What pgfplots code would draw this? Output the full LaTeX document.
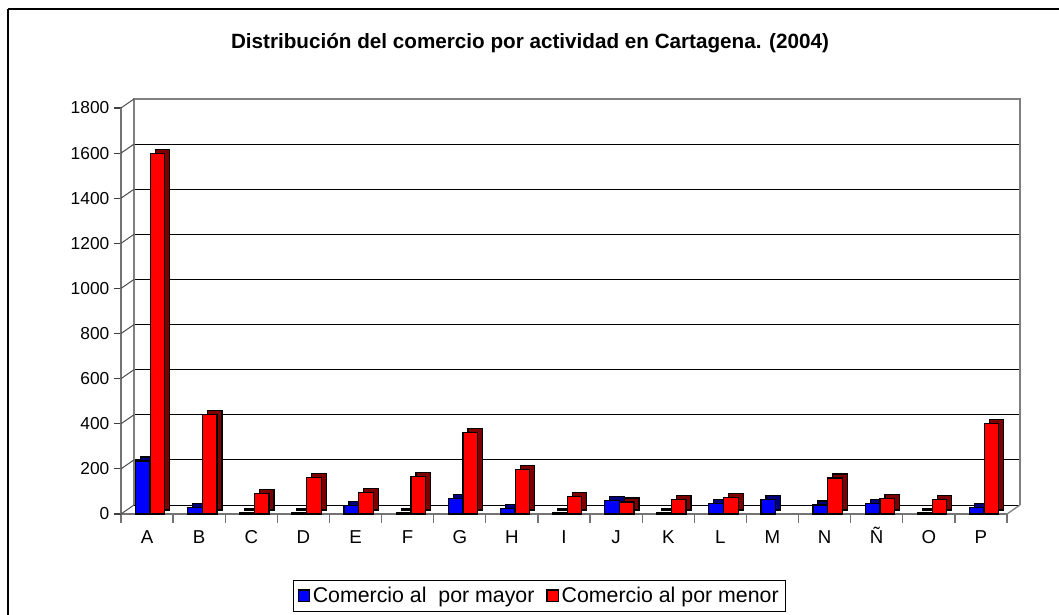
\documentclass[border=0pt]{standalone}
\usepackage{pgfplots}
\pgfplotsset{compat=1.18}
\usepackage{fontspec}
\setmainfont{Liberation Sans}
\definecolor{xblue}{RGB}{0,0,255}
\definecolor{xred}{RGB}{255,0,0}
\definecolor{dblue}{RGB}{0,0,120}
\definecolor{dred}{RGB}{125,0,0}
\begin{document}
\begin{tikzpicture}[x=0.75pt,y=0.75pt]
\useasboundingbox (0,0) rectangle (1059,614);
\draw[black, line width=0.9pt] (8,605) -- (1090,605);
\draw[black, line width=0.9pt] (8,605) -- (8,-30);
\node[font=\fontsize{15.5}{18}\selectfont\bfseries] at (530,571) {Distribución del comercio por actividad en Cartagena. (2004)};
\begin{axis}[
  at={(90.75pt,75pt)}, anchor=south west,
  scale only axis, width=664.5pt, height=304.5pt,
  clip=false,
  xmin=-0.5, xmax=16.5, ymin=0, ymax=1800,
  xtick={0,...,16},
  xticklabels={A,B,C,D,E,F,G,H,I,J,K,L,M,N,Ñ,O,P},
  minor xtick={-0.5,0.5,...,16.5},
  ytick={0,200,...,1800},
  axis x line*=bottom, axis y line*=left,
  axis line style={black!55, line width=1pt, -},
  tick align=outside,
  major tick length=5.25pt, minor tick length=6.75pt,
  major x tick style={draw=none},
  minor x tick style={black!55, line width=1pt},
  ytick style={black!75, line width=0.9pt},
  ymajorgrids,
  major grid style={black, line width=0.75pt, xshift=9.75pt, yshift=6.75pt},
  /pgf/number format/assume math mode=true,
  /pgf/number format/1000 sep={},
  yticklabel style={font=\fontsize{13}{15}\selectfont},
  xticklabel style={font=\fontsize{14}{16}\selectfont, text height=10.5pt, text depth=0pt, yshift=-3pt},
  legend style={at={(0.4723,-0.1626)}, anchor=north, draw=black, line width=0.9pt,
    font=\fontsize{16}{18}\selectfont, legend columns=2,
    /tikz/every even column/.append style={column sep=7pt},
    inner ysep=3pt, inner xsep=3pt},
  legend image code/.code={\draw[#1, draw=black, line width=0.9pt] (0pt,-4pt) rectangle (8.5pt,4.5pt);},
]
\draw[black!50, line width=1.2pt, shift={(9.75pt,6.75pt)}] (axis cs:-0.5,0) -- (axis cs:-0.5,1800) -- (axis cs:16.5,1800) -- (axis cs:16.5,0);
\pgfplotsinvokeforeach{0,200,...,1800}{\draw[black!70, line width=0.75pt] (axis cs:-0.5,#1) -- ++(9.75pt,6.75pt);}
\draw[black!50, line width=1pt] (axis cs:16.5,0) -- ++(9.75pt,6.75pt);

\addplot[ybar, bar width=10.9pt, bar shift=-3.2pt, fill=xblue, draw=black, line width=0.9pt,
  preaction={fill=dblue, draw=black, line width=0.9pt, transform canvas={xshift=3.75pt,yshift=3pt}}, forget plot]
coordinates {(0,235) (1,28) (2,8) (3,6) (4,38) (5,8) (6,68) (7,25) (8,6) (9,60) (10,5) (11,45) (12,65) (13,40) (14,45) (15,5) (16,28)};
\addplot[ybar, bar width=10.9pt, bar shift=7.9pt, fill=xred, draw=black, line width=0.9pt,
  preaction={fill=dred, draw=black, line width=0.9pt, transform canvas={xshift=3.75pt,yshift=3pt}}, forget plot]
coordinates {(0,1600) (1,440) (2,92) (3,163) (4,94) (5,168) (6,363) (7,197) (8,76) (9,53) (10,65) (11,72) (13,160) (14,68) (15,65) (16,403)};
\addlegendimage{fill=xblue}
\addlegendentry{Comercio al~ por mayor}
\addlegendimage{fill=xred}
\addlegendentry{Comercio al por menor}
\end{axis}
\end{tikzpicture}
\end{document}
